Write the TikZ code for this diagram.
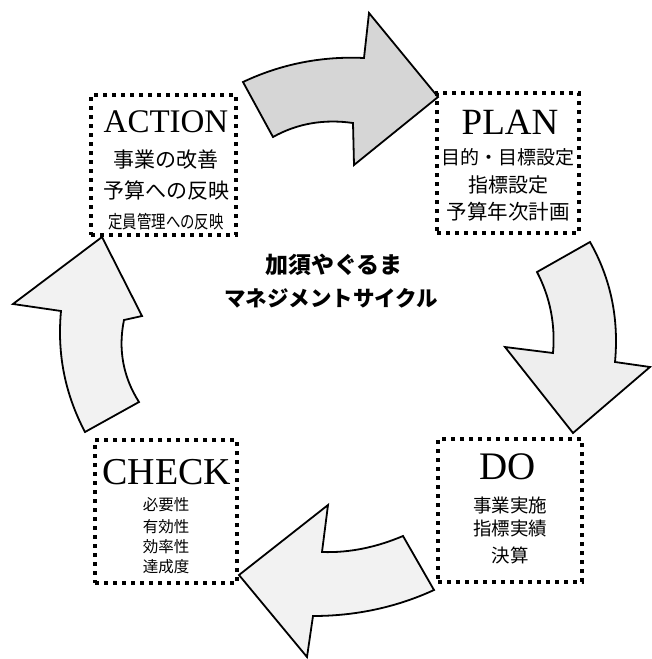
\documentclass[tikz,border=0pt]{standalone}
\usepackage{fontspec}
\setmainfont{Liberation Serif}
\newfontfamily\cjk{Noto Sans CJK JP}
\begin{document}
\begin{tikzpicture}[x=1pt,y=-1pt,
  dotbox/.style={draw, line width=3.8pt, dash pattern=on 3.8pt off 5.2pt, inner sep=0pt},
  arrowshape/.style={draw, line width=1.8pt, line join=miter},
  lat/.style={inner sep=0pt, font=\fontsize{#1}{#1}\selectfont},
  jp/.style={inner sep=0pt, font=\cjk\fontsize{#1}{#1}\selectfont},
  jpb/.style={inner sep=0pt, font=\cjk\bfseries\fontsize{#1}{#1}\selectfont}]
\useasboundingbox (0,0) rectangle (652,659);

% arrows
\draw[arrowshape, fill=gray!32] (243,82) .. controls (281,64) and (322,56) .. (364,58) -- (369,13) -- (438,97) -- (354,165) -- (353,123) .. controls (325,119) and (298,123) .. (273,137) -- cycle;

\draw[arrowshape, fill=gray!13] (590,242) .. controls (611,279) and (619,319) .. (615,362) -- (650,367) -- (573,433) -- (505,347) -- (553,353) .. controls (555.5,324) and (550,297) .. (537,272) -- cycle;

\draw[arrowshape, fill=gray!10] (239,575) -- (328,505) -- (322,552) .. controls (350,553) and (377,547) .. (403,536) -- (434,590) .. controls (396,607.5) and (355,616) .. (313,616) -- (307,657) -- cycle;

\draw[arrowshape, fill=gray!10] (102,237) -- (142,316) -- (124,320) .. controls (118,349) and (123,377) .. (139,402) -- (85,432) .. controls (65,394) and (57,354) .. (61,311) -- (13,304) -- cycle;

% boxes
\node[dotbox, minimum width=145pt, minimum height=140pt] (actionbox) at (163.5,165) {};
\node[dotbox, minimum width=142pt, minimum height=140pt] (planbox) at (508,163) {};
\node[dotbox, minimum width=142pt, minimum height=143pt] (checkbox) at (166,511.5) {};
\node[dotbox, minimum width=144pt, minimum height=143pt] (dobox) at (510,510.5) {};

% ACTION
\node[lat=33] (actiont) at (166,122) {ACTION};
\node[jp=21] (a1) at (166,160) {事業の改善};
\node[jp=21] (a2) at (166,190) {予算への反映};
\node[jp=18, xscale=0.8] (a3) at (166,222) {定員管理への反映};

% PLAN
\node[lat=37] (plant) at (510,122) {PLAN};
\node[jp=19] (p1) at (508,157) {目的・目標設定};
\node[jp=20] (p2) at (508,185) {指標設定};
\node[jp=20.5] (p3) at (508,212) {予算年次計画};

% CHECK
\node[lat=38] (checkt) at (167,472) {CHECK};
\node[jp=15.5] (c1) at (166,505) {必要性};
\node[jp=15.5] (c2) at (166,527) {有効性};
\node[jp=15.5] (c3) at (166,547) {効率性};
\node[jp=15.5] (c4) at (166,567) {達成度};

% DO
\node[lat=39] (dot) at (508,467) {DO};
\node[jp=18.5] (d1) at (510,505) {事業実施};
\node[jp=18.5] (d2) at (510,528) {指標実績};
\node[jp=18.5] (d3) at (510,555) {決算};

% centre
\node[jpb=23] (title1) at (334,265) {加須やぐるま};
\node[jpb=21.5] (title2) at (331,298) {マネジメントサイクル};
\end{tikzpicture}
\end{document}
